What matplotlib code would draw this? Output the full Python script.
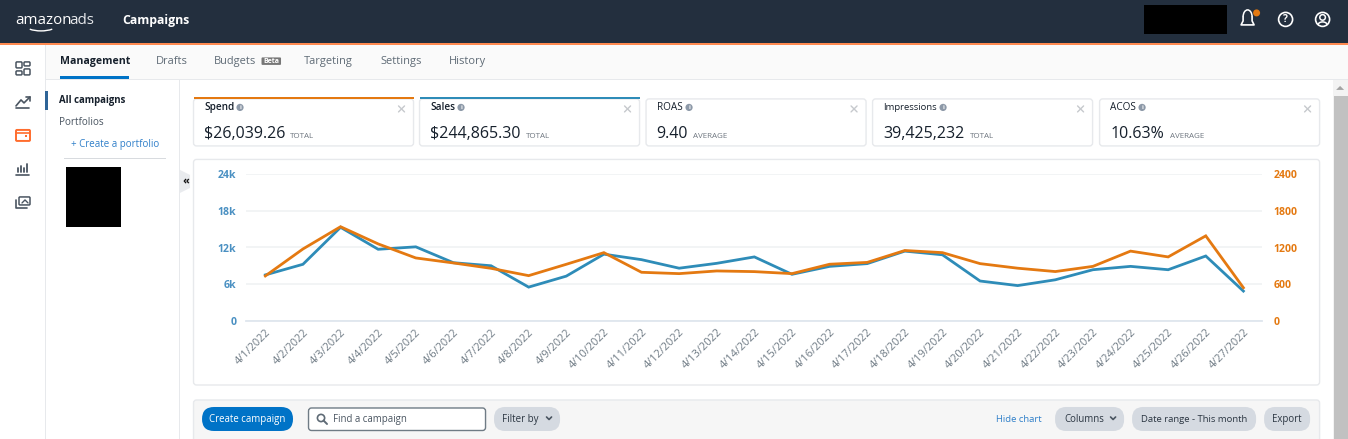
import numpy as np
import matplotlib
matplotlib.use('Agg')
import matplotlib.pyplot as plt
from matplotlib.patches import Rectangle, FancyBboxPatch, Circle, Arc, Polygon

W, H = 1348, 439

days = ['4/%d/2022' % d for d in range(1, 28)]
sales = [7.5, 9.24, 15.3, 11.7, 12.1, 9.5, 9.0, 5.5, 7.3, 10.9, 10.0, 8.6, 9.4, 10.45,
         7.6, 8.9, 9.35, 11.4, 10.8, 6.5, 5.75, 6.7, 8.35, 8.9, 8.35, 10.6, 4.85]
spend = [733, 1175, 1540, 1258, 1028, 946, 858, 738, 924, 1115, 793, 771, 815, 804,
         771, 925, 955, 1150, 1115, 935, 860, 805, 890, 1140, 1045, 1390, 540]
left_ticks = [0, 6, 12, 18, 24]
left_labels = ['0', '6k', '12k', '18k', '24k']
right_ticks = [0, 600, 1200, 1800, 2400]

tile_names = ['Spend', 'Sales', 'ROAS', 'Impressions', 'ACOS']
tile_values = ['$26,039.26', '$244,865.30', '9.40', '39,425,232', '10.63%']
tile_notes = ['TOTAL', 'TOTAL', 'AVERAGE', 'TOTAL', 'AVERAGE']
tabs = ['Management', 'Drafts', 'Budgets', 'Targeting', 'Settings', 'History']

BLUE = '#2e8cb8'
ORANGE = '#e47911'
DARK = '#232f3e'
GRID = '#f0f2f4'
LABEL = '#6f7b85'
LINK = '#2f7fc9'

plt.rcParams['font.family'] = ['Open Sans', 'DejaVu Sans']

# the extra 0.1 keeps the saved height from rounding down to 438
fig = plt.figure(figsize=((W + 0.1) / 100, (H + 0.1) / 100), dpi=100, facecolor='white')

# page layer in pixel coordinates
bg = fig.add_axes([0, 0, 1, 1])
bg.set_xlim(0, W)
bg.set_ylim(H, 0)
bg.axis('off')


def px(size):
    return size * 72 / 100


def rect(x0, y0, x1, y1, color, z=1):
    bg.add_patch(Rectangle((x0, y0), x1 - x0, y1 - y0, fc=color, ec='none', zorder=z))


def rounded(x0, y0, x1, y1, fc, ec='none', r=3, lw=1, z=2):
    bg.add_patch(FancyBboxPatch((x0 + r, y0 + r), x1 - x0 - 2 * r, y1 - y0 - 2 * r,
                                boxstyle='round,pad=%g,rounding_size=%g' % (r, r),
                                fc=fc, ec=ec, lw=lw, zorder=z))


def label(x, y, s, size=11, color='#111111', weight='normal', ha='left', z=5):
    # va center sits a little high for this font
    bg.text(x, y + 1.4, s, fontsize=px(size), color=color, fontweight=weight, ha=ha, va='center', zorder=z)


def line(xs, ys, color, lw=1.2, z=4):
    bg.plot(xs, ys, color=color, lw=lw, zorder=z, solid_capstyle='round')


# header
rect(0, 0, W, 43, DARK)
rect(0, 43, W, 45.5, '#ff8a50')
label(15, 19, 'amazon', 15, 'white', 'medium')
label(69, 19, 'ads', 15, '#e8eaed')
bg.add_patch(Arc((41, 24), 34, 14, theta1=25, theta2=155, color='white', lw=1, zorder=5))
label(122, 19, 'Campaigns', 12.3, 'white', 'bold')
rect(1144, 5, 1227, 34, 'black')
bg.add_patch(Arc((1247.5, 17), 9, 14, theta1=180, theta2=360, color='white', lw=1.1, zorder=5))
line([1243, 1243, 1241, 1254, 1252, 1252], [17, 21, 25, 25, 21, 17], 'white')
bg.add_patch(Circle((1256.5, 13), 3.5, fc=ORANGE, ec='none', zorder=6))
bg.add_patch(Circle((1285.5, 19.5), 7, fc='none', ec='white', lw=1.2, zorder=5))
label(1285.5, 18.3, '?', 10, 'white', 'bold', ha='center')
bg.add_patch(Circle((1322.5, 19.5), 7, fc='none', ec='white', lw=1.2, zorder=5))
bg.add_patch(Circle((1322.5, 17.5), 2.8, fc='none', ec='white', lw=1.1, zorder=5))
bg.add_patch(Arc((1322.5, 25), 9, 6, theta1=180, theta2=360, color='white', lw=1.1, zorder=5))

# tab bar and side panels
rect(45, 45.5, W, 79, '#fafafa')
rect(45, 79, W, 80, '#e7e9ec')
rect(45, 45.5, 46, H, '#e7e9ec')
rect(179, 80, 180, H, '#e7e9ec')
tab_x = [60, 156, 214, 304, 380, 449]
for i, (x, t) in enumerate(zip(tab_x, tabs)):
    if i == 0:
        label(x, 60.5, t, 10.5, '#16202c', 'bold')
    else:
        label(x, 60.5, t, 11, '#5f6b76')
rect(60, 76.5, 129, 79, '#0073c7')
rounded(261.5, 57.5, 281, 65, '#777777', r=1, z=3)
label(271, 60, 'Beta', 7, 'white', 'bold', ha='center')

# icon column
ic = '#4a5561'
for x0, y0, x1, y1 in [(16, 62, 22, 68), (24, 62, 30, 66), (16, 71, 22, 75), (24, 69, 30, 75)]:
    rounded(x0, y0, x1, y1, 'none', ec=ic, r=1, lw=1.1)
line([16, 21, 24, 30], [106, 100, 103, 97], ic)
line([26, 30, 30], [97, 97, 101], ic)
line([16, 29], [108, 108], ic)
rounded(16, 130, 30, 141, 'none', ec='#ff6d2e', r=1, lw=1.4)
line([16, 30], [133.5, 133.5], '#ff6d2e', 1.2)
rect(25, 135.5, 27, 137.5, '#ff6d2e', z=4)
for x, top in zip([18, 21, 24, 27], [168, 166, 168, 164]):
    line([x, x], [top, 172], ic, 1.3)
line([16, 29], [175, 175], ic)
rounded(19, 197, 30, 205, 'none', ec=ic, r=1, lw=1.1)
line([16, 16, 27], [200, 208, 208], ic)
line([22, 25, 28], [203, 200, 203], ic, 1)

# portfolio panel
rect(45, 91, 48, 110, '#2f6497', z=3)
label(59, 99, 'All campaigns', 9.6, '#16202c', 'bold')
label(59, 121, 'Portfolios', 10, '#4a5561')
label(71, 143, '+ Create a portfolio', 9.8, LINK)
rect(64, 158, 166, 159, '#d8dbdf')
rect(66, 167, 121, 227, 'black')
bg.add_patch(Polygon([(180, 170), (190, 175), (190, 188), (180, 193)], fc='#e9ebee', ec='none', zorder=3))
label(186, 179.5, '«', 11, '#111111', 'bold', ha='center')

# metric tiles
tile_x = [(193.5, 413.5), (419.5, 639.5), (646, 866), (872.5, 1092.5), (1099.5, 1319.5)]
note_x = [290, 526, 692.5, 970, 1170]
name_size = [10, 10, 10, 9.5, 10]
dot_x = [240, 461, 689, 943, 1142]
for i, (x0, x1) in enumerate(tile_x):
    rounded(x0, 99, x1, 146, 'white', ec='#e7e9ec')
    name_weight = 'semibold' if i < 2 else 'normal'
    label(x0 + 10.5, 106.5, tile_names[i], name_size[i], '#16202c', name_weight)
    label(x0 + 10.5, 132.5, tile_values[i], 16, '#16202c')
    label(note_x[i], 135.5, tile_notes[i], 8, '#6f7780')
    bg.add_patch(Circle((dot_x[i], 107.5), 3.6, fc='#8d99a8', ec='none', zorder=5))
    label(dot_x[i], 106, 'i', 6, 'white', 'bold', ha='center', z=6)
    line([x1 - 15, x1 - 9], [106, 112], '#c6c9cd', 1)
    line([x1 - 15, x1 - 9], [112, 106], '#c6c9cd', 1)
rect(193.5, 97, 413.5, 99, ORANGE, z=3)
rect(419.5, 97, 639.5, 99, BLUE, z=3)

# chart card and toolbar
rounded(193.5, 159.5, 1319.5, 385, 'white', ec='#e7e9ec')
rounded(193.5, 400, 1319.5, 445, '#f6f6f6', ec='#e7e9ec')

# scroll bar
rect(1333, 80, W, H, '#f3f3f3')
rect(1334, 96, W, H, '#c1c1c1')
bg.add_patch(Polygon([(1336, 90), (1344, 90), (1340, 86)], fc='#a3a3a3', ec='none', zorder=3))

# toolbar controls
rounded(202, 407, 293, 431, '#0073c7', r=12)
label(247.5, 418, 'Create campaign', 9.6, 'white', 'medium', ha='center')
rounded(308.5, 408, 485.5, 430.5, 'white', ec='#6f7b85', r=3)
bg.add_patch(Circle((321, 418), 3.6, fc='none', ec='#5f6b76', lw=1.2, zorder=5))
line([323.5, 327], [420.5, 424], '#5f6b76', 1.4)
label(333, 418, 'Find a campaign', 9.6, '#4a5561')
grey = '#d5dae1'
rounded(494, 407, 560, 431, grey, r=11)
label(502, 418, 'Filter by', 9.8, '#2b3642')
line([546.5, 549, 551.5], [417, 419.5, 417], '#4a5561', 1.2)
label(995.5, 418, 'Hide chart', 9.5, LINK)
rounded(1055, 407, 1124, 431, grey, r=11)
label(1064, 418, 'Columns', 9.6, '#2b3642')
line([1110.5, 1113, 1115.5], [417, 419.5, 417], '#4a5561', 1.2)
rounded(1132, 407, 1256, 431, grey, r=11)
label(1194, 418, 'Date range - This month', 9.5, '#2b3642', ha='center')
rounded(1264, 407, 1310, 431, grey, r=11)
label(1287, 418, 'Export', 9.6, '#2b3642', ha='center')

# the chart itself
x0, x1 = 246, 1262
ytop, ybot = 174.3, 320.7
ax = fig.add_axes([x0 / W, 1 - ybot / H, (x1 - x0) / W, (ybot - ytop) / H], facecolor='none')
ax2 = ax.twinx()
x = np.arange(len(days))
step = (1243.3 - 265.3) / 26
ax.set_xlim(-(265.3 - x0) / step, 26 + (x1 - 1243.3) / step)
ax.set_ylim(0, 24)
ax2.set_ylim(0, 2400)

ax.plot(x, sales, color=BLUE, lw=2, zorder=3, solid_joinstyle='miter')
ax2.plot(x, spend, color=ORANGE, lw=2, zorder=4, solid_joinstyle='miter')

ax.set_yticks(left_ticks)
ax.set_yticklabels(left_labels, color='#4a90c2', fontsize=px(10.5), fontweight='bold')
ax2.set_yticks(right_ticks)
ax2.set_yticklabels([str(v) for v in right_ticks], color=ORANGE, fontsize=px(10.5), fontweight='bold')
ax.tick_params(axis='y', length=0, pad=7)
ax2.tick_params(axis='y', length=0, pad=8)
ax.set_xticks(x)
ax.set_xticklabels(days, rotation=45, ha='right', rotation_mode='anchor', color=LABEL, fontsize=px(11))
ax.tick_params(axis='x', length=0, pad=4.5)
ax.grid(axis='y', color=GRID, lw=1.2)
ax.set_axisbelow(True)
for a in (ax, ax2):
    for s in a.spines.values():
        s.set_visible(False)
ax.spines['bottom'].set_visible(True)
ax.spines['bottom'].set_color('#dfe6ee')
ax.spines['bottom'].set_linewidth(1.3)

fig.savefig('out.png', dpi=100)
